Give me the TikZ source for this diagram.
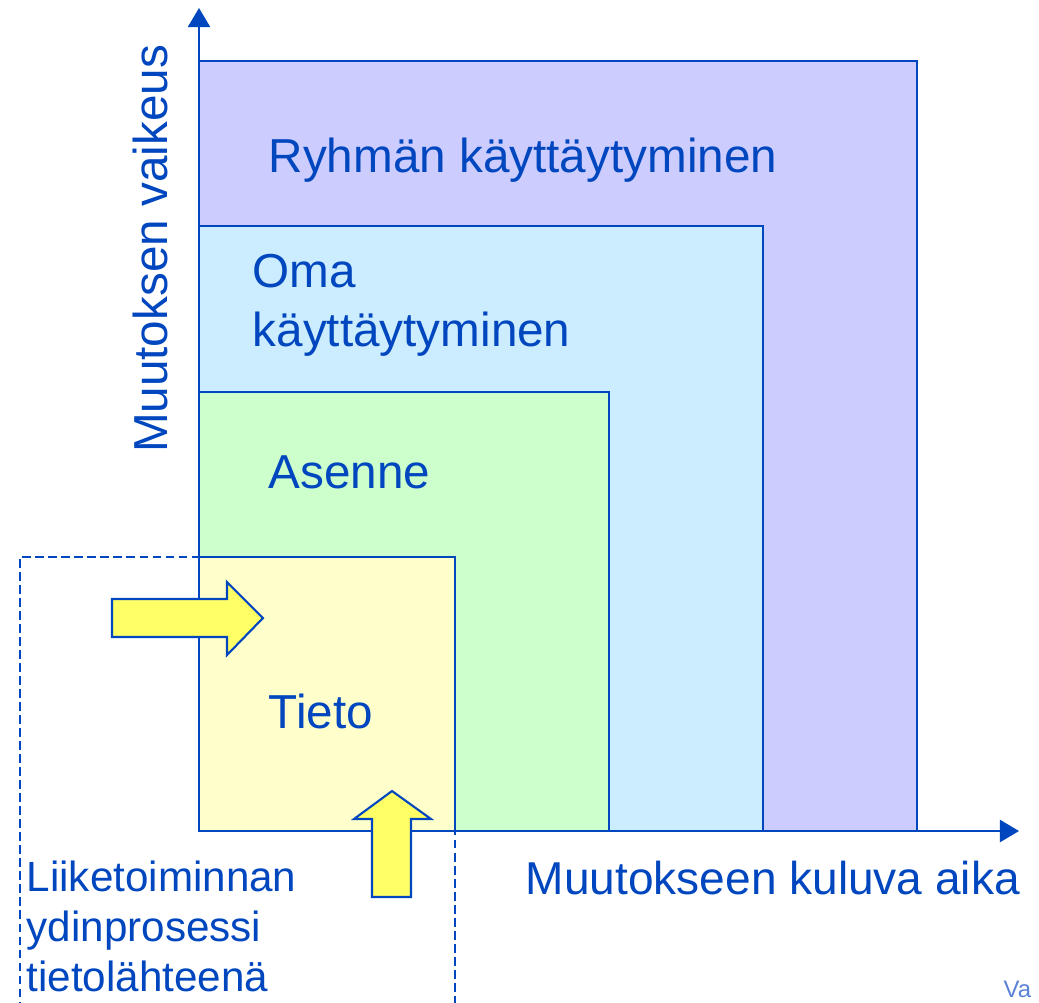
\documentclass[tikz,border=0pt]{standalone}
\usepackage{fontspec}
\setmainfont{Liberation Sans}
\usetikzlibrary{arrows.meta}
\definecolor{ink}{RGB}{0,70,190}
\definecolor{faint}{RGB}{90,130,215}
\definecolor{R}{RGB}{204,204,255}
\definecolor{O}{RGB}{204,236,255}
\definecolor{A}{RGB}{204,255,204}
\definecolor{T}{RGB}{255,255,204}
\definecolor{Y}{RGB}{255,255,102}
\newcommand{\drawthick}{\draw[ink, line width=0.6pt]}
\newcommand{\levelsquare}[3]{\drawthick[fill=#1] (origin) rectangle (#2,#3);}
\newcommand{\bigfont}{\fontsize{13.55pt}{16.5pt}\selectfont}
\newcommand{\midfont}{\fontsize{12pt}{14.2pt}\selectfont}

\begin{document}
\begin{tikzpicture}[x=0.01cm, y=-0.01cm,
    every node/.style={ink, inner sep=0pt, anchor=base west, align=left}]
\useasboundingbox (0,0) rectangle (1039,1002);
\coordinate (origin) at (199,831);
\coordinate (ytip) at (199,8);
\coordinate (xtip) at (1019,831);
\levelsquare{R}{917}{61}\levelsquare{O}{763}{226}\levelsquare{A}{609}{392}\levelsquare{T}{455}{557}
\drawthick[-{Triangle[length=0.19cm,width=0.22cm]}] (origin)--(ytip);
\drawthick[-{Triangle[length=0.19cm,width=0.22cm]}] (origin)--(xtip);
\draw[ink, line width=0.45pt, dash pattern=on 2.4pt off 1.3pt] (20,1010)--++(0,-453)--++(435,0)--++(0,453);
\drawthick[fill=Y] (112,599)--++(115,0)--++(0,-17)--++(36,36)--++(-36,37)--++(0,-18)--++(-115,0)--cycle;
\drawthick[fill=Y] (372,897)--++(0,-78)--++(-18,0)--++(38,-28)--++(39,28)--++(-20,0)--++(0,78)--cycle;
\node[font=\bigfont] (ryhma) at (268,172) {Ryhmän käyttäytyminen};
\node[font=\bigfont] (oma) at (252,346) {Oma\\käyttäytyminen};
\node[font=\bigfont] (asenne) at (268,488) {Asenne};
\node[font=\bigfont] (tieto) at (268,728) {Tieto};
\node[font=\midfont] (lahde) at (26,991) {Liiketoiminnan\\ydinprosessi\\tietolähteenä};
\node[font=\fontsize{13.1pt}{16pt}\selectfont] (xlabel) at (525,894) {Muutokseen kuluva aika};
\node[font=\bigfont, rotate=90, anchor=base] (ylabel) at (167,249) {Muutoksen vaikeus};
\node[font=\fontsize{6.8pt}{8pt}\selectfont, text=faint] (va) at (1003,997) {Va};
\end{tikzpicture}
\end{document}
